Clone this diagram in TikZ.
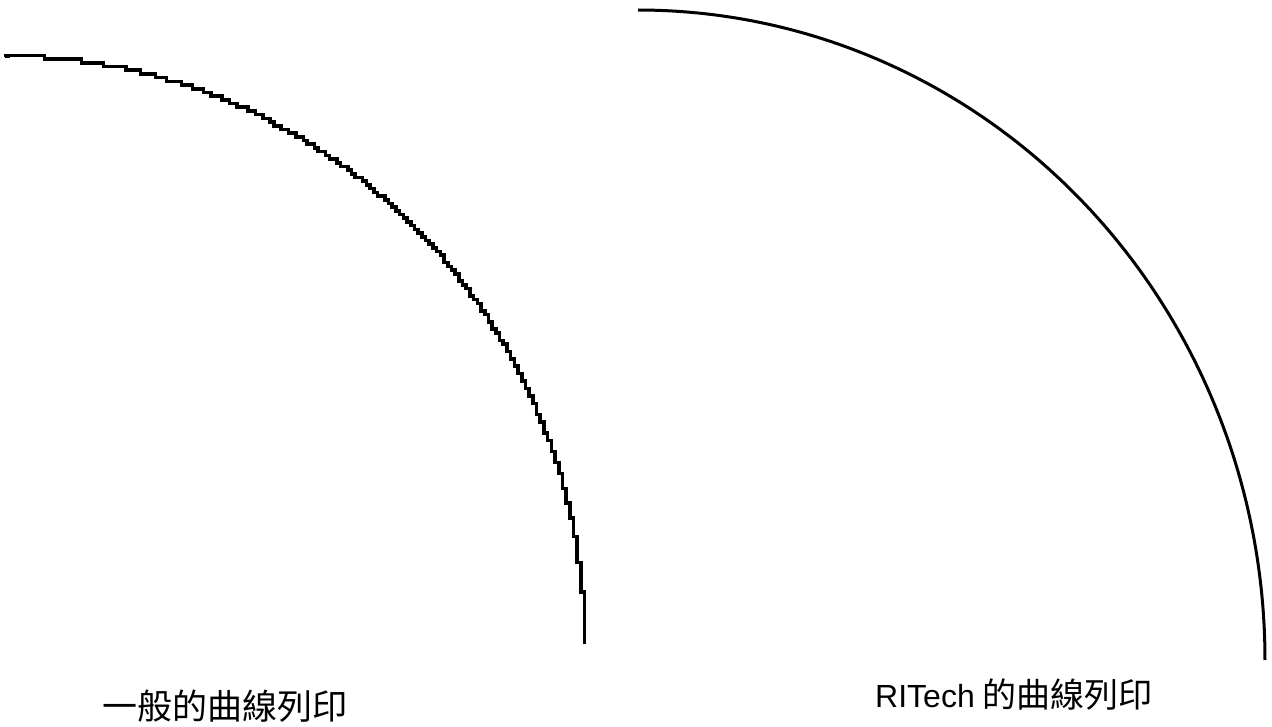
\documentclass[tikz,border=0pt]{standalone}
\usepackage{fontspec}
\setmainfont{Liberation Sans}
\newfontfamily\cjk{Noto Sans CJK TC}
\begin{document}
\begin{tikzpicture}[x=1pt,y=-1pt,
  label/.style={inner sep=0pt, anchor=base west, text=black}]
\useasboundingbox[fill=white] (0,0) rectangle (1272,727);
% stepped curve (ordinary printing)
\draw[line width=3.6pt] (5,56) -- (10,56)
  plot[const plot, domain=0:90, samples=700]
  ({round((5+580*sin(\x))/3.7)*3.7}, {round((645-589*cos(\x))/3.7)*3.7});
% smooth curve (RITech)
\draw[line width=3pt] plot[domain=0:90, samples=150, smooth]
  ({638+627*sin(\x)}, {660-650*cos(\x)});
\node[label] (l1) at (102,719) {\fontsize{35}{40}\selectfont\cjk 一般的曲線列印};
\node[label] (l2) at (875,707) {\fontsize{32}{38}\selectfont RITech\hspace{0.25em}{\fontsize{34}{38}\selectfont\cjk 的曲線列印}};
\end{tikzpicture}
\end{document}
